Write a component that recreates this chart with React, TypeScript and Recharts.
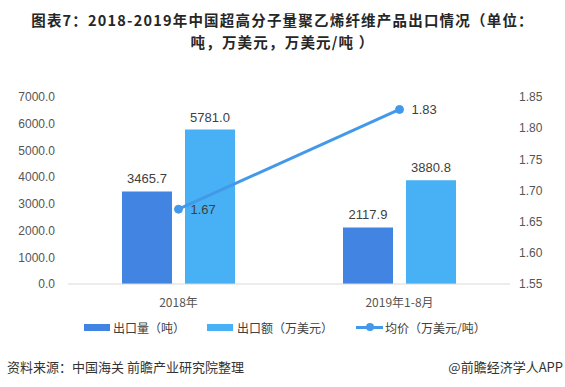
import React from "react";
import { ComposedChart, Bar, Line, XAxis, YAxis, LabelList } from "recharts";

const categories = ["2018年", "2019年1-8月"];
const volume = [3465.7, 2117.9];
const amount = [5781.0, 3880.8];
const price = [1.67, 1.83];
const leftTicks = [0, 1000, 2000, 3000, 4000, 5000, 6000, 7000];
const rightTicks = [1.55, 1.6, 1.65, 1.7, 1.75, 1.8, 1.85];
const seriesNames = ["出口量（吨）", "出口额（万美元）", "均价（万美元/吨）"];

const data = categories.map((c, i) => ({ name: c, volume: volume[i], amount: amount[i], price: price[i] }));

const C1 = "#4284E1";
const C2 = "#48B0F4";
const C3 = "#4399E9";
const FONT = "'Liberation Sans', Arial, 'Noto Sans CJK SC', sans-serif";
const CJK = "'Noto Sans CJK SC', 'Liberation Sans', sans-serif";

export default function App() {
  const titleStyle: React.CSSProperties = { position: "absolute", left: 0, width: 565, textAlign: "center", fontFamily: CJK, fontWeight: 700, fontSize: 14.5, letterSpacing: 1.2, lineHeight: "16px", height: 16, color: "#262626", whiteSpace: "nowrap" };
  return (
    <div style={{ position: "absolute", left: 0, top: 0, width: 565, height: 387, background: "#fff", overflow: "hidden" }}>
      <div style={{ ...titleStyle, top: 12 }}>图表7：2018-2019年中国超高分子量聚乙烯纤维产品出口情况（单位：</div>
      <div style={{ ...titleStyle, top: 34 }}>吨，万美元，万美元/吨 ）</div>
      <div style={{ position: "absolute", left: 0, top: 0 }}>
        <ComposedChart width={565} height={387} data={data} margin={{ top: 97, right: 0, bottom: 73, left: 0 }} barCategoryGap="24%" barGap={13}>
          <XAxis dataKey="name" axisLine={{ stroke: "#d9d9d9" }} tickLine={false} tick={{ fill: "#555", fontSize: 12, fontFamily: CJK }} tickMargin={8} height={30} />
          <YAxis yAxisId="left" width={68} domain={[0, 7000]} ticks={leftTicks} axisLine={false} tickLine={false} tickMargin={7} tickFormatter={(v: number) => v.toFixed(1)} tick={{ fill: "#555", fontSize: 12, fontFamily: FONT }} interval={0} />
          <YAxis yAxisId="right" orientation="right" width={55} domain={[1.55, 1.85]} ticks={rightTicks} axisLine={false} tickLine={false} tickMargin={3} tickFormatter={(v: number) => v.toFixed(2)} tick={{ fill: "#555", fontSize: 12, fontFamily: FONT }} interval={0} />
          <Bar yAxisId="left" dataKey="volume" fill={C1} barSize={50} isAnimationActive={false}>
            <LabelList dataKey="volume" position="top" offset={8} formatter={(v: number) => v.toFixed(1)} style={{ fill: "#404040", fontSize: 13, fontFamily: FONT }} />
          </Bar>
          <Bar yAxisId="left" dataKey="amount" fill={C2} barSize={50} isAnimationActive={false}>
            <LabelList dataKey="amount" position="top" offset={8} formatter={(v: number) => v.toFixed(1)} style={{ fill: "#404040", fontSize: 13, fontFamily: FONT }} />
          </Bar>
          <Line yAxisId="right" dataKey="price" stroke={C3} strokeWidth={3} dot={{ r: 4, fill: C3, stroke: C3, strokeWidth: 1 }} activeDot={false} isAnimationActive={false}>
            <LabelList dataKey="price" position="right" offset={12} formatter={(v: number) => v.toFixed(2)} style={{ fill: "#404040", fontSize: 13, fontFamily: FONT }} />
          </Line>
        </ComposedChart>
      </div>
      <div style={{ position: "absolute", top: 320, left: 0, width: 565, height: 16, fontFamily: CJK, fontSize: 12, color: "#404040" }}>
        <div style={{ position: "absolute", left: 84, top: 4, width: 26, height: 7, background: C1 }} />
        <div style={{ position: "absolute", left: 113, top: 0, lineHeight: "16px" }}>{seriesNames[0]}</div>
        <div style={{ position: "absolute", left: 207, top: 4, width: 26, height: 7, background: C2 }} />
        <div style={{ position: "absolute", left: 237, top: 0, lineHeight: "16px" }}>{seriesNames[1]}</div>
        <div style={{ position: "absolute", left: 356, top: 6, width: 27, height: 3, background: C3 }} />
        <div style={{ position: "absolute", left: 366, top: 3, width: 8, height: 8, borderRadius: 4, background: C3 }} />
        <div style={{ position: "absolute", left: 385, top: 0, lineHeight: "16px" }}>{seriesNames[2]}</div>
      </div>
      <div style={{ position: "absolute", left: 7, top: 358, fontFamily: CJK, fontSize: 13, lineHeight: "18px", color: "#333" }}>资料来源：中国海关 前瞻产业研究院整理</div>
      <div style={{ position: "absolute", right: 2, top: 358, fontFamily: CJK, fontSize: 13, lineHeight: "18px", color: "#333" }}>@前瞻经济学人APP</div>
    </div>
  );
}
